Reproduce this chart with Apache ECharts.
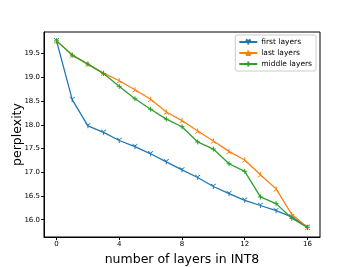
<!DOCTYPE html>
<html><head><meta charset="utf-8">
<script src="https://cdn.jsdelivr.net/npm/echarts@6/dist/echarts.min.js"></script>
<style>html,body{margin:0;padding:0;background:#fff}#c{width:356px;height:267px}</style>
</head><body><div id="c"></div>
<script>
var layers = [0,1,2,3,4,5,6,7,8,9,10,11,12,13,14,15,16];
var firstLayers = [19.77,18.53,17.98,17.84,17.67,17.54,17.39,17.22,17.05,16.89,16.70,16.55,16.41,16.30,16.19,16.06,15.84];
var lastLayers = [19.77,19.47,19.28,19.09,18.93,18.74,18.54,18.27,18.09,17.87,17.66,17.44,17.26,16.95,16.65,16.11,15.84];
var middleLayers = [19.77,19.47,19.28,19.08,18.81,18.55,18.33,18.12,17.96,17.64,17.49,17.18,17.02,16.48,16.34,16.03,15.84];
var xTicks = [0,4,8,12,16];
var yTicks = [16.0,16.5,17.0,17.5,18.0,18.5,19.0,19.5];
var names = ['first layers','last layers','middle layers'];
var colors = ['#1f77b4','#ff7f0e','#2ca02c'];
var symbols = [
  'path://M0,0L0,1M0,0L-0.87,-0.5M0,0L0.87,-0.5',
  'path://M0,0L0,-1M0,0L-0.87,0.5M0,0L0.87,0.5',
  'path://M-1,0L1,0M0,-1L0,1'
];
function pairs(arr){ return layers.map(function(x,i){return [x,arr[i]];}); }
var allSeries = [firstLayers,lastLayers,middleLayers];
var font = 'DejaVu Sans';
var chart = echarts.init(document.getElementById('c'), null, {renderer:'canvas'});
chart.setOption({
  animation:false,
  textStyle:{fontFamily:font},
  grid:{left:44,right:36,top:32,bottom:30,show:true,borderColor:'#000',borderWidth:1,
    containLabel:false,outerBoundsMode:'none'},
  legend:{
    top:35,right:40,orient:'vertical',itemGap:3,itemWidth:18,itemHeight:6,
    padding:[3,4,3,3],borderColor:'#ccc',borderWidth:1,borderRadius:2,backgroundColor:'#fff',
    textStyle:{fontSize:7.5,fontFamily:font,color:'#000',padding:[0,0,0,-1]},
    data:names
  },
  xAxis:{
    type:'value',min:-0.8,max:16.8,
    name:'number of layers in INT8',nameLocation:'middle',nameGap:16,nameMoveOverlap:false,
    nameTextStyle:{fontSize:12.5,fontFamily:font,color:'#000'},
    axisLine:{show:true,onZero:false,lineStyle:{color:'#000'}},
    axisTick:{show:true,length:3,customValues:xTicks,lineStyle:{color:'#000'}},
    axisLabel:{customValues:xTicks,fontSize:7,color:'#000',margin:4,fontFamily:font},
    splitLine:{show:false}
  },
  yAxis:{
    type:'value',min:15.636,max:19.957,
    name:'perplexity',nameLocation:'middle',nameGap:20,nameMoveOverlap:false,
    nameTextStyle:{fontSize:12.5,fontFamily:font,color:'#000'},
    axisLine:{show:true,onZero:false,lineStyle:{color:'#000'}},
    axisTick:{show:true,length:3,customValues:yTicks,lineStyle:{color:'#000'}},
    axisLabel:{customValues:yTicks,fontSize:7,color:'#000',margin:4,fontFamily:font,
      formatter:function(v){return v.toFixed(1);}},
    splitLine:{show:false}
  },
  series: allSeries.map(function(arr,i){
    return {
      name:names[i],type:'line',data:pairs(arr),
      symbol:symbols[i],symbolSize:5,showSymbol:true,
      lineStyle:{color:colors[i],width:1.3},
      itemStyle:{color:colors[i],borderColor:colors[i],borderWidth:1},
      z:2+i
    };
  })
});
</script></body></html>
